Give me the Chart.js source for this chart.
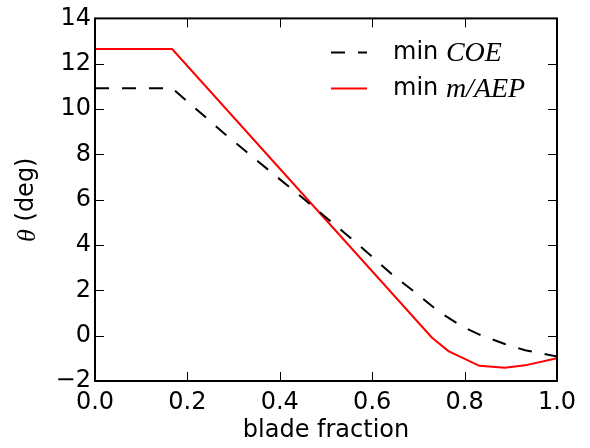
<!DOCTYPE html>
<html>
<head>
<meta charset="utf-8">
<script src="https://cdn.jsdelivr.net/npm/chart.js@4/dist/chart.umd.min.js"></script>
<style>
  html, body { margin: 0; padding: 0; background: #fff; }
  #wrap { width: 590px; height: 448px; }
</style>
</head>
<body>
<div id="wrap"><canvas id="chart" width="590" height="448"></canvas></div>
<script>
// datos
const xCOE = [0, 0.167, 0.281, 0.353, 0.451, 0.548, 0.595, 0.642, 0.693, 0.743, 0.794, 0.832, 0.887, 0.931, 1.0];
const thetaCOE = [10.92, 10.92, 8.9, 7.69, 6.05, 4.40, 3.57, 2.72, 1.91, 1.08, 0.41, 0.05, -0.37, -0.64, -0.92];

const xAEP = [0, 0.167, 0.729, 0.765, 0.832, 0.887, 0.931, 1.0];
const thetaAEP = [12.65, 12.65, -0.08, -0.68, -1.33, -1.42, -1.31, -1.0];

const xTicks = [0, 0.2, 0.4, 0.6, 0.8, 1.0];
const yTicks = [-2, 0, 2, 4, 6, 8, 10, 12, 14];

const legendLabels = [['min ', 'COE'], ['min ', 'm/AEP']];

const SANS = '"DejaVu Sans", sans-serif';
const MATH = '"Liberation Serif", "DejaVu Serif", serif';
const FS = 24;

const toPoints = (xs, ys) => xs.map((x, i) => ({ x: x, y: ys[i] }));

// ticks hacia adentro en los cuatro lados + marco
const frameTicks = {
  id: 'frameTicks',
  afterDatasetsDraw(chart) {
    const { ctx, chartArea: a, scales } = chart;
    const len = 9;
    ctx.save();
    ctx.strokeStyle = '#000';
    ctx.lineWidth = 1;
    ctx.beginPath();
    xTicks.forEach(v => {
      const px = Math.round(scales.x.getPixelForValue(v)) + 0.5;
      ctx.moveTo(px, a.bottom); ctx.lineTo(px, a.bottom - len);
      ctx.moveTo(px, a.top); ctx.lineTo(px, a.top + len);
    });
    yTicks.forEach(v => {
      const py = Math.round(scales.y.getPixelForValue(v)) + 0.5;
      ctx.moveTo(a.left, py); ctx.lineTo(a.left + len, py);
      ctx.moveTo(a.right, py); ctx.lineTo(a.right - len, py);
    });
    ctx.stroke();
    ctx.lineWidth = 2;
    ctx.strokeRect(a.left, a.top, a.right - a.left, a.bottom - a.top);
    ctx.restore();
  }
};

// leyenda y titulo del eje y con texto matematico en italica
const mathText = {
  id: 'mathText',
  afterDraw(chart) {
    const { ctx, chartArea: a } = chart;
    ctx.save();
    ctx.textBaseline = 'middle';

    const lx0 = a.left + 236, lx1 = lx0 + 36, tx = lx0 + 62;
    chart.data.datasets.forEach((ds, i) => {
      const y = a.top + 34 + i * 36;
      ctx.strokeStyle = ds.borderColor;
      ctx.lineWidth = ds.borderWidth;
      ctx.setLineDash(ds.borderDash || []);
      ctx.beginPath();
      ctx.moveTo(lx0, y); ctx.lineTo(lx1, y);
      ctx.stroke();
      ctx.setLineDash([]);
      ctx.fillStyle = '#000';
      ctx.font = FS + 'px ' + SANS;
      ctx.textAlign = 'left';
      ctx.fillText(legendLabels[i][0], tx, y);
      const w = ctx.measureText(legendLabels[i][0]).width;
      ctx.font = 'italic ' + (FS + 4) + 'px ' + MATH;
      ctx.fillText(legendLabels[i][1], tx + w, y + 1);
    });

    // titulo eje y: θ (deg)
    const cy = (a.top + a.bottom) / 2;
    ctx.translate(27, cy);
    ctx.rotate(-Math.PI / 2);
    ctx.fillStyle = '#000';
    ctx.font = 'italic ' + (FS + 2) + 'px ' + MATH;
    const t1 = '\u03b8';
    const w1 = ctx.measureText(t1).width;
    ctx.font = FS + 'px ' + SANS;
    const t2 = ' (deg)';
    const w2 = ctx.measureText(t2).width;
    const start = -(w1 + w2) / 2;
    ctx.textAlign = 'left';
    ctx.font = 'italic ' + (FS + 2) + 'px ' + MATH;
    ctx.fillText(t1, start, 1);
    ctx.font = FS + 'px ' + SANS;
    ctx.fillText(t2, start + w1, 0);
    ctx.restore();
  }
};

const data = {
  datasets: [
    {
      label: 'min COE',
      data: toPoints(xCOE, thetaCOE),
      borderColor: '#000000',
      borderWidth: 2,
      borderDash: [14, 13],
      pointRadius: 0,
      tension: 0,
      fill: false
    },
    {
      label: 'min m/AEP',
      data: toPoints(xAEP, thetaAEP),
      borderColor: '#ff0000',
      borderWidth: 2,
      pointRadius: 0,
      tension: 0,
      fill: false
    }
  ]
};

const options = {
  responsive: false,
  animation: false,
  layout: { padding: { left: 0, right: 33, top: 16, bottom: 0 } },
  plugins: { legend: { display: false }, tooltip: { enabled: false } },
  scales: {
    x: {
      type: 'linear',
      min: 0, max: 1,
      afterFit: s => { s.height = 67; },
      afterBuildTicks: s => { s.ticks = xTicks.map(v => ({ value: v })); },
      grid: { display: false, drawTicks: false },
      border: { display: false },
      ticks: {
        color: '#000',
        font: { family: SANS, size: FS },
        padding: 7,
        maxRotation: 0,
        callback: v => v.toFixed(1)
      },
      title: {
        display: true,
        text: 'blade fraction',
        color: '#000',
        font: { family: SANS, size: FS },
        padding: { top: 0, bottom: 3 }
      }
    },
    y: {
      type: 'linear',
      min: -2, max: 14,
      afterFit: s => { s.width = 95; },
      afterBuildTicks: s => { s.ticks = yTicks.map(v => ({ value: v })); },
      grid: { display: false, drawTicks: false },
      border: { display: false },
      ticks: {
        color: '#000',
        font: { family: SANS, size: FS },
        padding: 4,
        callback: v => String(v).replace('-', '\u2212')
      }
    }
  }
};

const chart = new Chart(document.getElementById('chart').getContext('2d'), {
  type: 'line',
  data: data,
  options: options,
  plugins: [frameTicks, mathText]
});
</script>
</body>
</html>
